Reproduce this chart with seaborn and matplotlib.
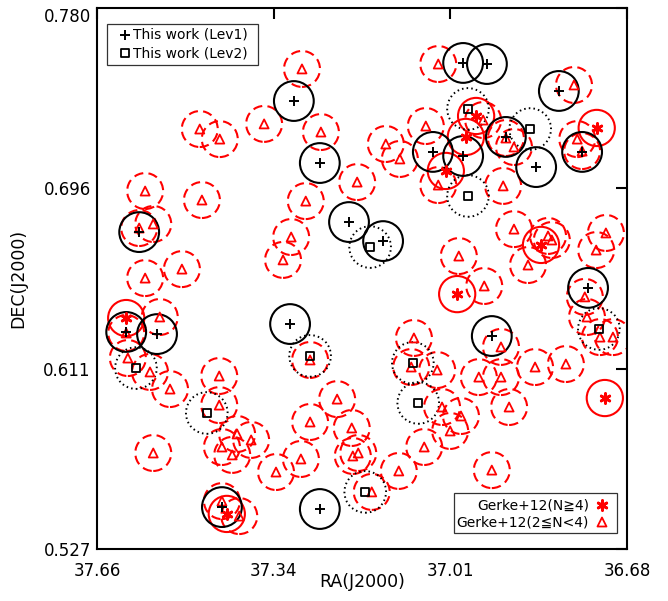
import numpy as np
import matplotlib
matplotlib.use("Agg")
import matplotlib.pyplot as plt
from matplotlib.patches import Rectangle
import seaborn as sns

# ---------------- data ----------------
# This work, Lev1 (black solid circles with '+')
lev1_ra = [37.296, 37.248, 37.582, 36.983, 36.939, 36.806, 37.039, 36.983, 36.904, 36.848,
           36.763, 37.194, 37.131, 37.606, 37.549, 37.303, 37.429, 37.248, 36.752, 36.930]
lev1_dec = [0.7365, 0.7075, 0.6752, 0.7543, 0.7538, 0.7412, 0.7127, 0.7108, 0.7197, 0.7056,
            0.7127, 0.6799, 0.6710, 0.6285, 0.6275, 0.6322, 0.5466, 0.5457, 0.6491, 0.6266]

# This work, Lev2 (black dotted circles with squares)
lev2_ra = [36.974, 36.859, 36.974, 37.155, 37.588, 37.266, 37.457, 36.732, 37.076, 37.066, 37.164]
lev2_dec = [0.7328, 0.7234, 0.6921, 0.6682, 0.6116, 0.6173, 0.5906, 0.6299, 0.6140, 0.5953, 0.5537]

# Gerke+12, N>=4 (red solid circles with asterisks)
g4_ra = [36.959, 36.978, 37.015, 36.736, 36.839, 36.994, 37.606, 37.420, 36.721]
g4_dec = [0.7295, 0.7197, 0.7038, 0.7239, 0.6692, 0.6462, 0.6350, 0.5434, 0.5976]

# Gerke+12, 2<=N<4 (red dashed circles with triangles)
g2_ra = [37.281, 37.029, 36.778, 37.470, 37.433, 37.351, 37.246, 37.052, 37.126, 37.100,
         36.946, 36.904, 36.889, 36.772, 36.763, 37.029, 36.909, 37.179, 37.571, 37.466,
         37.274, 37.582, 37.556, 37.301, 37.316, 37.571, 37.503, 36.889, 36.826, 36.819,
         36.863, 36.719, 36.737, 36.991, 36.944, 36.758, 37.544, 37.606, 37.603, 37.562,
         37.525, 37.266, 37.434, 37.434, 37.401, 37.375, 37.429, 37.410, 37.556, 37.266,
         37.283, 37.329, 37.429, 37.397, 36.754, 36.730, 36.706, 36.913, 37.074, 37.079,
         37.031, 36.954, 36.913, 36.850, 36.793, 37.022, 36.987, 37.007, 36.898, 37.216,
         37.189, 37.187, 37.177, 37.055, 37.102, 36.930, 37.152]
g2_dec = [0.7515, 0.7538, 0.7440, 0.7234, 0.7187, 0.7258, 0.7220, 0.7248, 0.7164, 0.7094,
          0.7276, 0.7192, 0.7150, 0.7187, 0.7131, 0.6972, 0.6968, 0.6986, 0.6944, 0.6902,
          0.6897, 0.6771, 0.6790, 0.6729, 0.6622, 0.6537, 0.6579, 0.6766, 0.6734, 0.6715,
          0.6598, 0.6748, 0.6668, 0.6640, 0.6500, 0.6449, 0.6355, 0.6280, 0.6163, 0.6098,
          0.6018, 0.6154, 0.6079, 0.5943, 0.5808, 0.5780, 0.5747, 0.5710, 0.5719, 0.5864,
          0.5691, 0.5630, 0.5494, 0.5424, 0.6355, 0.6261, 0.6261, 0.6215, 0.6257, 0.6121,
          0.6107, 0.6074, 0.6074, 0.6121, 0.6135, 0.5934, 0.5892, 0.5822, 0.5934, 0.5971,
          0.5836, 0.5705, 0.5719, 0.5747, 0.5635, 0.5639, 0.5537]

x_ticks = [37.66, 37.3333, 37.0067, 36.68]
x_ticklabels = ["37.66", "37.34", "37.01", "36.68"]
y_ticks = [0.527, 0.6113, 0.6957, 0.780]
y_ticklabels = ["0.527", "0.611", "0.696", "0.780"]

legend1_labels = ["This work (Lev1)", "This work (Lev2)"]
legend2_labels = ["Gerke+12(N≧4)", "Gerke+12(2≦N<4)"]

# ---------------- style ----------------
sns.set_style("white")
plt.rcParams["font.family"] = ["DejaVu Sans", "Noto Sans CJK JP"]
plt.rcParams["text.color"] = "black"
plt.rcParams["axes.labelcolor"] = "black"
plt.rcParams["xtick.color"] = "black"
plt.rcParams["ytick.color"] = "black"

fig = plt.figure(figsize=(6.68, 6.01), dpi=100)
ax = fig.add_axes([0.14521, 0.08652, 0.79341, 0.90017])

ASTER = (6, 2, 0)
dash = (0, (4.5, 2.5))
dot = (0, (0.8, 1.6))

# circles
ax.scatter(g2_ra, g2_dec, s=670, facecolors="none", edgecolors="red",
           linewidths=1.5, linestyles=dash, zorder=2)
ax.scatter(g4_ra, g4_dec, s=680, facecolors="none", edgecolors="red",
           linewidths=1.5, zorder=3)
ax.scatter(lev2_ra, lev2_dec, s=900, facecolors="none", edgecolors="black",
           linewidths=1.4, linestyles=dot, zorder=4)
ax.scatter(lev1_ra, lev1_dec, s=820, facecolors="none", edgecolors="black",
           linewidths=1.5, zorder=5)

# centre markers
ax.scatter(g2_ra, g2_dec, marker="^", s=42, facecolors="none", edgecolors="red",
           linewidths=1.3, zorder=6)
sns.scatterplot(x=g4_ra, y=g4_dec, marker=ASTER, s=50, color="red", linewidth=2.0,
                ax=ax, zorder=7, legend=False)
ax.scatter(lev2_ra, lev2_dec, marker="s", s=30, facecolors="none", edgecolors="black",
           linewidths=1.3, zorder=7)
sns.scatterplot(x=lev1_ra, y=lev1_dec, marker="+", s=45, color="black", linewidth=1.4,
                ax=ax, zorder=8, legend=False)

# axes
ax.set_xlim(37.66, 36.68)
ax.set_ylim(0.527, 0.780)
ax.set_xticks(x_ticks)
ax.set_xticklabels(x_ticklabels)
ax.set_yticks(y_ticks)
ax.set_yticklabels(y_ticklabels)
ax.tick_params(direction="in", length=8, width=1.5, top=True, right=True,
               labelsize=12, colors="black")
ax.tick_params(axis="x", pad=9)
ax.tick_params(axis="y", pad=4.5)
ax.get_yticklabels()[-1].set_va("top")
for sp in ax.spines.values():
    sp.set_linewidth(1.5)
    sp.set_color("black")

ax.set_xlabel("RA(J2000)", fontsize=12.5, color="black")
ax.set_ylabel("DEC(J2000)", fontsize=12.5, color="black")
ax.xaxis.set_label_coords(0.5, -0.044)
ax.yaxis.set_label_coords(-0.132, 0.5)

# legend 1 (top-left)
ax.add_patch(Rectangle((0.0189, 0.8946), 0.285, 0.0758, transform=ax.transAxes,
                       facecolor="white", edgecolor="#333333", linewidth=0.9, zorder=10))
ax.scatter([0.0528], [0.9501], marker="+", s=45, color="black", linewidths=1.4,
           transform=ax.transAxes, zorder=11, clip_on=False)
ax.scatter([0.0528], [0.9168], marker="s", s=30, facecolors="none", edgecolors="black",
           linewidths=1.3, transform=ax.transAxes, zorder=11, clip_on=False)
ax.text(0.0679, 0.9501, legend1_labels[0], transform=ax.transAxes, fontsize=10,
        va="center", ha="left", zorder=11, color="black")
ax.text(0.0679, 0.9168, legend1_labels[1], transform=ax.transAxes, fontsize=10,
        va="center", ha="left", zorder=11, color="black")

# legend 2 (bottom-right)
ax.add_patch(Rectangle((0.6736, 0.0296), 0.3075, 0.0739, transform=ax.transAxes,
                       facecolor="white", edgecolor="#333333", linewidth=0.9, zorder=10))
ax.scatter([0.9528], [0.0813], marker=ASTER, s=50, color="red", linewidths=2.0,
           transform=ax.transAxes, zorder=11, clip_on=False)
ax.scatter([0.9528], [0.0499], marker="^", s=42, facecolors="none", edgecolors="red",
           linewidths=1.3, transform=ax.transAxes, zorder=11, clip_on=False)
ax.text(0.9283, 0.0813, legend2_labels[0], transform=ax.transAxes, fontsize=10,
        va="center", ha="right", zorder=11, color="black")
ax.text(0.9283, 0.0499, legend2_labels[1], transform=ax.transAxes, fontsize=10,
        va="center", ha="right", zorder=11, color="black")

fig.savefig("out.png", dpi=100)
